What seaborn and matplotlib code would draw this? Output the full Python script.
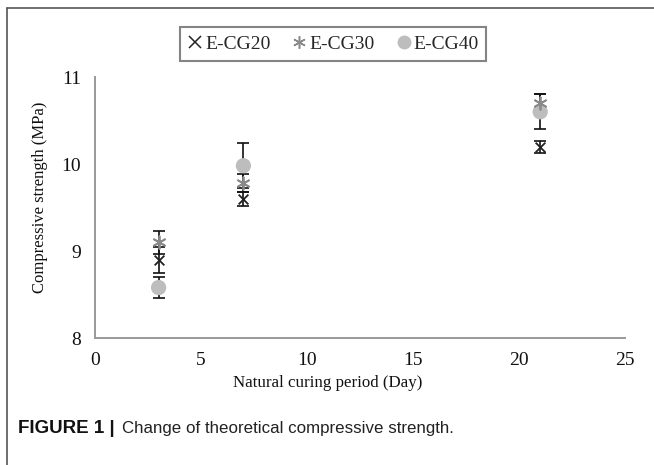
import matplotlib
matplotlib.use("Agg")
import matplotlib.pyplot as plt
import seaborn as sns
import pandas as pd
from matplotlib.lines import Line2D

days = [3, 7, 21]
series = ["E-CG20", "E-CG30", "E-CG40"]
cg20 = [8.90, 9.60, 10.20]
cg20_err = [0.15, 0.08, 0.07]
cg30 = [9.10, 9.78, 10.70]
cg30_err = [0.13, 0.10, 0.10]
cg40 = [8.58, 9.98, 10.60]
cg40_err = [0.12, 0.26, 0.20]

xticks = [0, 5, 10, 15, 20, 25]
yticks = [8, 9, 10, 11]

rows = []
for name, vals, errs in zip(series, [cg20, cg30, cg40], [cg20_err, cg30_err, cg40_err]):
    for d, v, e in zip(days, vals, errs):
        rows.append({"day": d, "value": v, "err": e, "series": name})
df = pd.DataFrame(rows)

sns.set_theme(style="white")
plt.rcParams["font.family"] = ["Liberation Serif", "DejaVu Serif"]

fig = plt.figure(figsize=(6.54, 4.65), dpi=100)
ax = fig.add_axes([95/654, 1-338/465, (625-95)/654, (338-77)/465])

colors = {"E-CG20": "#222222", "E-CG30": "#8a8a8a", "E-CG40": "#bdbdbd"}
markers = {"E-CG20": "x", "E-CG30": (6, 2, 0), "E-CG40": "o"}
sizes = {"E-CG20": 7, "E-CG30": 9, "E-CG40": 11}
mew = {"E-CG20": 1.3, "E-CG30": 1.3, "E-CG40": 0}

for name in series:
    sub = df[df["series"] == name]
    ax.errorbar(sub["day"], sub["value"], yerr=sub["err"], fmt="none",
                ecolor="#111111", elinewidth=1.2, capsize=4, capthick=1.2, zorder=2)

for name in series:
    sub = df[df["series"] == name]
    sns.scatterplot(data=sub, x="day", y="value", ax=ax, color=colors[name],
                    marker=markers[name], s=sizes[name]**2,
                    linewidth=mew[name], edgecolor=colors[name] if name != "E-CG40" else "none",
                    zorder=3 if name != "E-CG40" else 2.5, legend=False)

ax.set_xlim(0, 25)
ax.set_ylim(8, 11)
ax.set_xticks(xticks)
ax.set_yticks(yticks)
ax.tick_params(axis="both", which="major", labelsize=14, direction="out",
               length=4, width=1, color="#888888", labelcolor="#111111", pad=6)
for s in ["top", "right"]:
    ax.spines[s].set_visible(False)
for s in ["left", "bottom"]:
    ax.spines[s].set_color("#999999")
    ax.spines[s].set_linewidth(1.4)
ax.set_xlabel("")
ax.set_ylabel("")
fig.text(328/654, 1-383/465, "Natural curing period (Day)", fontsize=12.2,
         ha="center", va="center", color="#111111")
fig.text(40/654, 1-197/465, "Compressive strength (MPa)", fontsize=12,
         ha="center", va="center", rotation=90, color="#111111")

handles = [
    Line2D([], [], linestyle="none", marker="x", color=colors["E-CG20"], markersize=8, markeredgewidth=1.1),
    Line2D([], [], linestyle="none", marker=(6, 2, 0), color=colors["E-CG30"], markersize=9, markeredgewidth=1.1),
    Line2D([], [], linestyle="none", marker="o", color=colors["E-CG40"], markersize=10, markeredgewidth=0),
]
leg = fig.legend(handles, series, loc="center", bbox_to_anchor=(333/654, 1-44/465),
                 ncol=3, frameon=True, fancybox=False, fontsize=14,
                 handlelength=0.8, handletextpad=0.1, columnspacing=1.1,
                 borderpad=0.4, edgecolor="#666666")
leg.get_frame().set_linewidth(1.5)

# outer panel border
fig.add_artist(Line2D([7/654, 1.0], [1-8.5/465, 1-8.5/465], transform=fig.transFigure,
                      color="#555555", linewidth=1.2))
fig.add_artist(Line2D([7/654, 7/654], [0, 1-8.5/465], transform=fig.transFigure,
                      color="#555555", linewidth=1.2))

fig.text(18/654, 1-428/465, "FIGURE 1 |", fontsize=13.5, fontweight="bold",
         family=["Liberation Sans", "DejaVu Sans"], va="center", ha="left", color="#111111")
fig.text(122/654, 1-428/465, "Change of theoretical compressive strength.", fontsize=12.2,
         family=["Liberation Sans", "DejaVu Sans"], va="center", ha="left", color="#222222")

fig.savefig("out.png", dpi=100)
